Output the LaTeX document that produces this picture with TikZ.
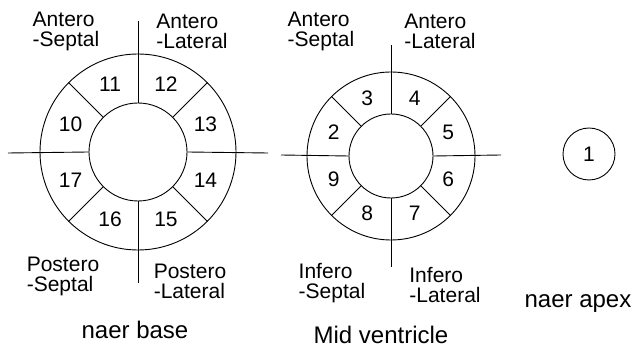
\documentclass[tikz,border=0pt]{standalone}
\usepackage{fontspec}
\setmainfont{Liberation Sans}
\begin{document}
\begin{tikzpicture}[x=1pt,y=1pt,line width=0.9pt,
    ring/.style={circle,draw,inner sep=0pt},
    num/.style={inner sep=0pt,font=\fontsize{21}{20}\selectfont},
    wall/.style={align=left,inner sep=0pt,font=\fontsize{21}{20}\selectfont},
    title/.style={anchor=base,inner sep=0pt,font=\fontsize{24}{26}\selectfont}]
    \useasboundingbox (0,0) rectangle (637,350);

    % near base
    \coordinate (baseC) at (138,198);
    \node[ring,minimum size=196pt] (baseO) at (baseC) {};
    \node[ring,minimum size=98pt] (baseI) at (baseC) {};
    \coordinate (baseN) at (138,329);
    \coordinate (baseS) at (138,67);
    \coordinate (baseW) at (8,197);
    \coordinate (baseE) at (268,197);
    \draw (baseN) -- (baseI.north);
    \draw (baseS) -- (baseI.south);
    \draw (baseW) -- (baseI.west);
    \draw (baseE) -- (baseI.east);
    \foreach \a in {45,135,225,315}
      \draw (baseI.\a) -- (baseO.\a);
    \foreach \a/\n in {112.5/11,67.5/12,22.5/13,-22.5/14,-67.5/15,-112.5/16,-157.5/17,157.5/10}
      \node[num] (seg\n) at ([shift={(\a:73)}]baseC) {\n};

    \node[wall] (baseAS) at (66,319) {Antero\\-Septal};
    \node[wall] (baseAL) at (192,319) {Antero\\-Lateral};
    \node[wall] (basePS) at (63,74) {Postero\\-Septal};
    \node[wall] (basePL) at (190,69) {Postero\\-Lateral};
    \node[title] (baseT) at (135,11) {naer base};

    % mid ventricle
    \coordinate (midC) at (391,194);
    \node[ring,minimum size=168pt] (midO) at (midC) {};
    \node[ring,minimum size=84pt] (midI) at (midC) {};
    \coordinate (midN) at (391,305);
    \coordinate (midS) at (391,83);
    \coordinate (midW) at (281,195);
    \coordinate (midE) at (501,195);
    \draw (midN) -- (midI.north);
    \draw (midS) -- (midI.south);
    \draw (midW) -- (midI.west);
    \draw (midE) -- (midI.east);
    \foreach \a in {45,135,225,315}
      \draw (midI.\a) -- (midO.\a);
    \foreach \a/\n in {112.5/3,67.5/4,22.5/5,-22.5/6,-67.5/7,-112.5/8,-157.5/9,157.5/2}
      \node[num] (seg\n) at ([shift={(\a:62)}]midC) {\n};

    \node[wall] (midAS) at (321,319) {Antero\\-Septal};
    \node[wall] (midAL) at (440,319) {Antero\\-Lateral};
    \node[wall] (midIS) at (332,67) {Infero\\-Septal};
    \node[wall] (midIL) at (445,65) {Infero\\-Lateral};
    \node[title] (midT) at (381,6) {Mid ventricle};

    % apex
    \node[ring,minimum size=52pt,font=\fontsize{21}{20}\selectfont] (seg1) at (589,196) {1};
    \node[title] (apexT) at (578,42) {naer apex};
  \end{tikzpicture}
\end{document}
